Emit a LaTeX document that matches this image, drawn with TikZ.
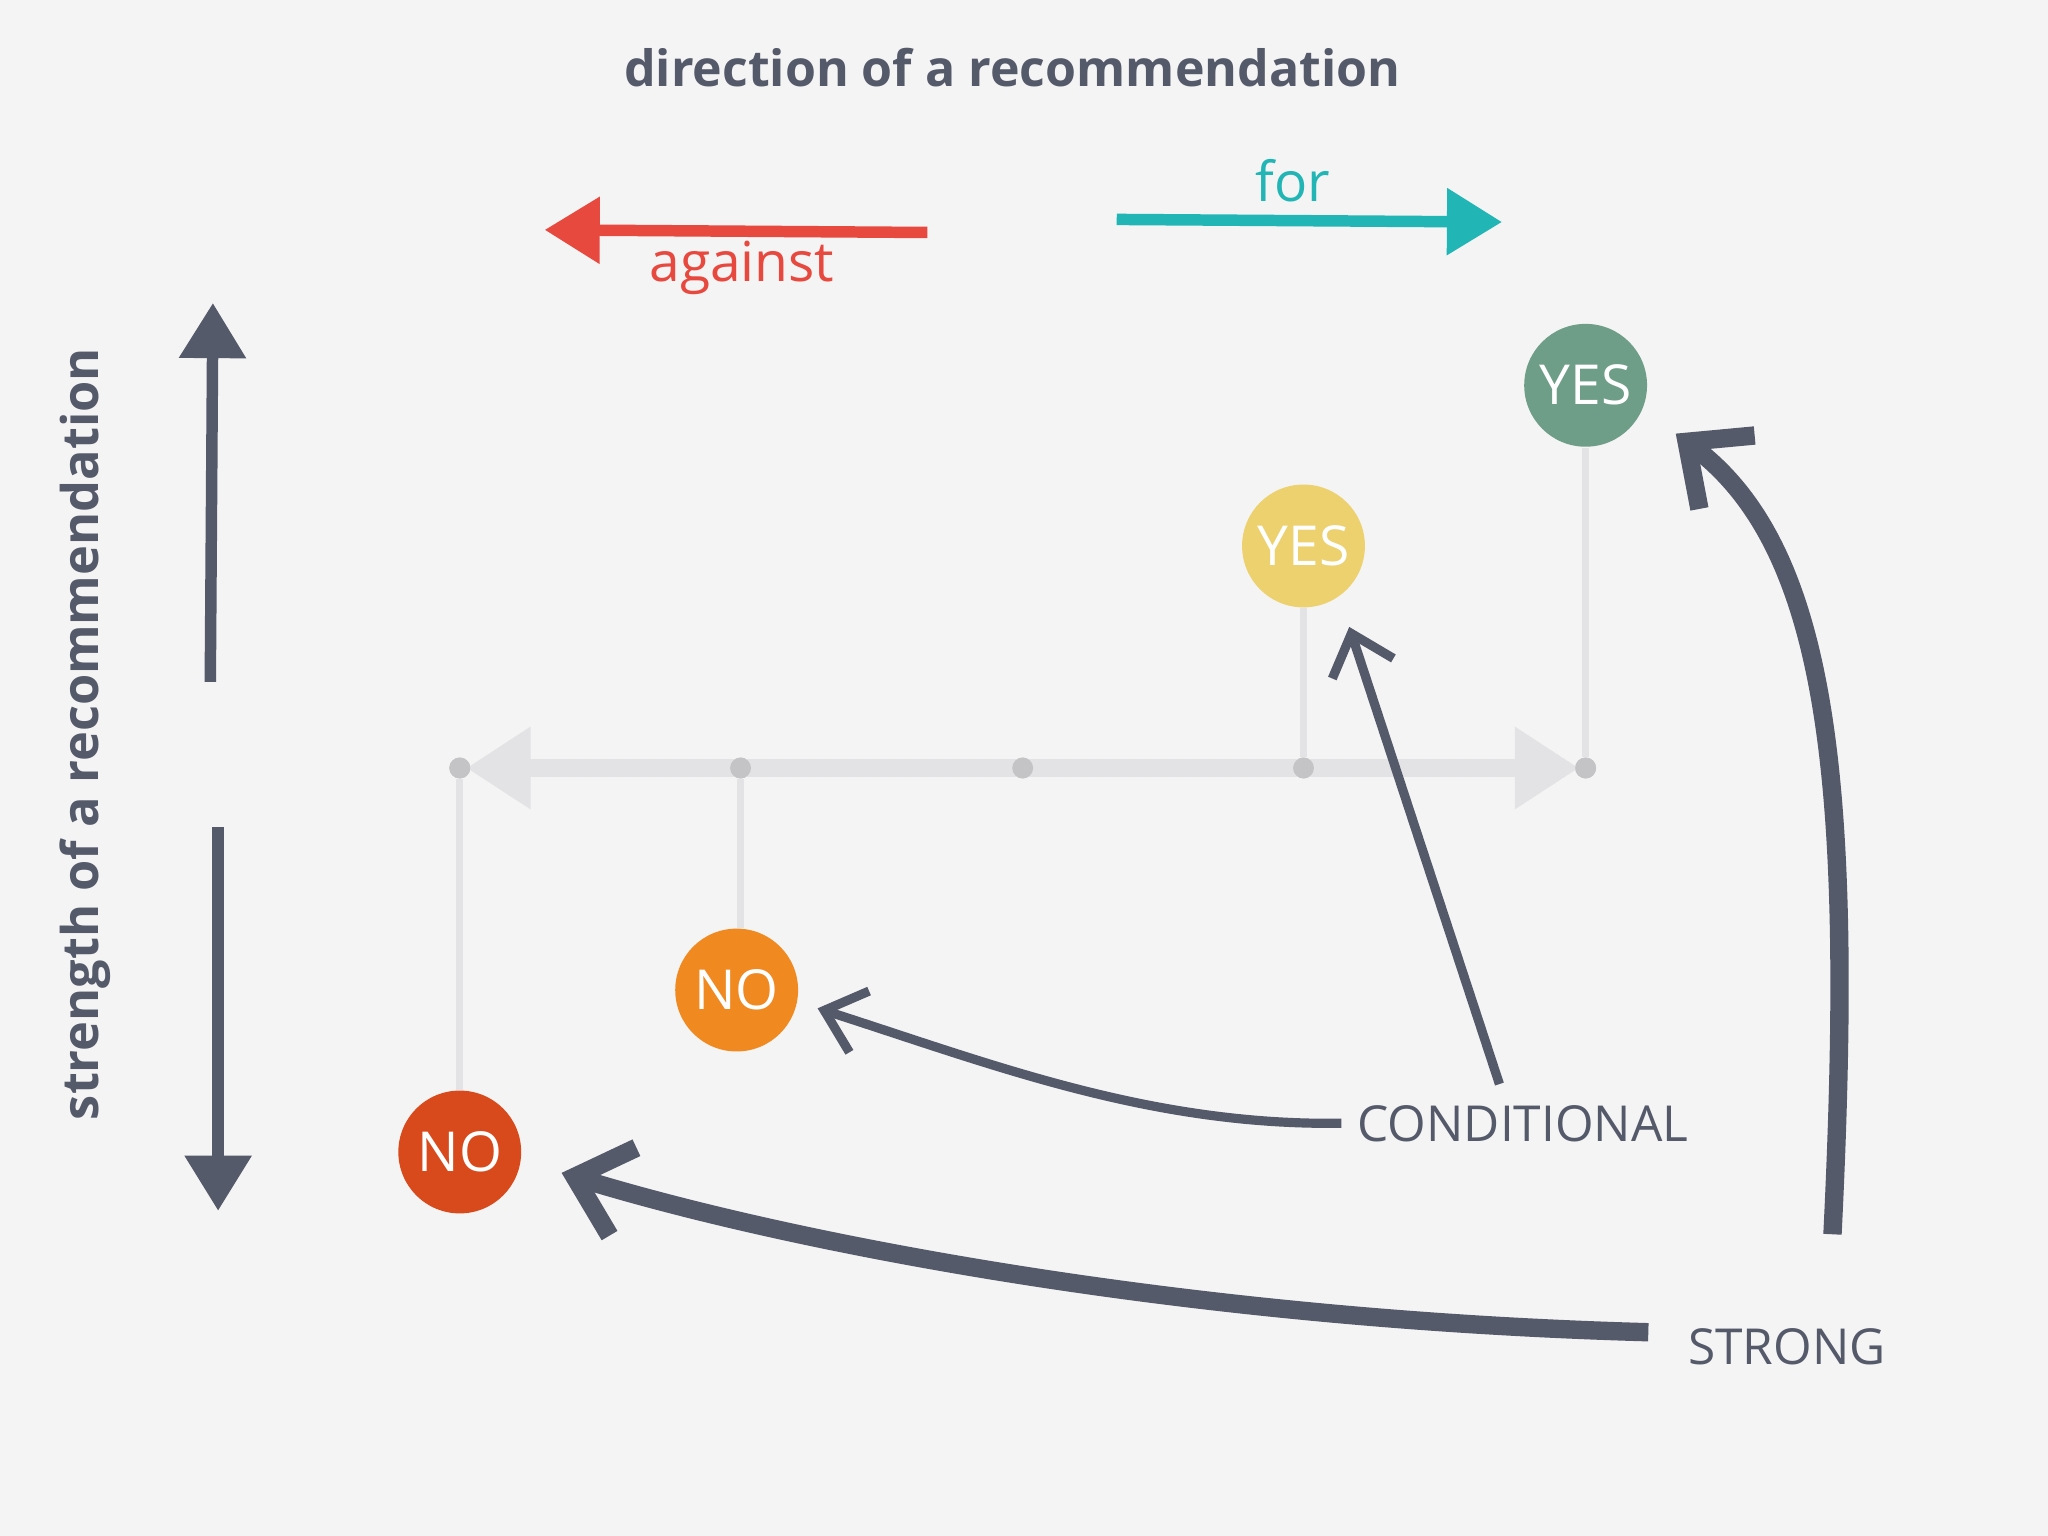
\documentclass[tikz,border=0pt]{standalone}
\usepackage{fontspec}
\setmainfont{Open Sans}
\usetikzlibrary{arrows.meta}
\definecolor{bg}{HTML}{F4F4F4}
\definecolor{ink}{HTML}{555A6A}
\definecolor{teal}{HTML}{22B5B5}
\definecolor{redd}{HTML}{E8493F}
\definecolor{axis}{HTML}{E3E3E5}
\definecolor{dotc}{HTML}{C4C4C6}
\definecolor{c1}{HTML}{D84A1B}
\definecolor{c2}{HTML}{F0891F}
\definecolor{c3}{HTML}{ECD16E}
\definecolor{c4}{HTML}{6E9E87}
\begin{document}
\begin{tikzpicture}[x=0.01cm,y=-0.01cm,
  ball/.style={circle,minimum size=0.94cm,inner sep=0,text=white,font=\fontsize{12}{12}\selectfont},
  dotn/.style={circle,fill=dotc,minimum size=0.16cm,inner sep=0},
  stem/.style={draw=axis,line width=1.6pt},
  lab/.style={text=ink,font=\fontsize{10.8}{11}\selectfont},
  darr/.style={draw=ink,line width=2pt,-{Straight Barb[length=8pt,width=14pt,line width=2pt]}},
  sarr/.style={draw=ink,line width=4pt,-{Straight Barb[length=11pt,width=20pt,line width=4pt]}}]
\fill[bg] (0,0) rectangle (1568,1176);
\node[text=ink,font=\bfseries\fontsize{10.9}{11}\selectfont] (title) at (775,52) {direction of a recommendation};
\node[text=teal,font=\fontsize{12}{12}\selectfont] (for) at (990,138) {for};
\node[text=redd,font=\fontsize{12}{12}\selectfont] (ag) at (568,205) {against};
\coordinate (f1) at (855,168); \coordinate (f2) at (1150,170);
\draw[teal,line width=2.5pt,-{Triangle[length=12pt,width=14pt]}] (f1) -- (f2);
\coordinate (a1) at (710,178); \coordinate (a2) at (417,176);
\draw[redd,line width=2.5pt,-{Triangle[length=12pt,width=14pt]}] (a1) -- (a2);
\node[rotate=90,text=ink,font=\bfseries\fontsize{11}{11}\selectfont] (str) at (65,562) {strength of a recommendation};
\coordinate (u1) at (161,522); \coordinate (u2) at (163,232);
\draw[ink,line width=2.5pt,-{Triangle[length=12pt,width=14pt]}] (u1) -- (u2);
\coordinate (d1) at (167,633); \coordinate (d2) at (167,927);
\draw[ink,line width=2.5pt,-{Triangle[length=12pt,width=14pt]}] (d1) -- (d2);
% axis
\node[dotn] (p1) at (352,588) {};
\node[dotn] (p2) at (567,588) {};
\node[dotn] (p3) at (783,588) {};
\node[dotn] (p4) at (998,588) {};
\node[dotn] (p5) at (1214,588) {};
\draw[axis,line width=4pt,{Triangle[length=14pt,width=17pt]}-{Triangle[length=14pt,width=17pt]}] (357,588) -- (1209,588);
\foreach \p in {p1,p2,p3,p4,p5} \node[dotn] at (\p) {};
\node[ball,fill=c1] (no1) at (352,882) {NO};
\node[ball,fill=c2] (no2) at (564,758) {NO};
\node[ball,fill=c3] (yes1) at (998,418) {YES};
\node[ball,fill=c4] (yes2) at (1214,295) {YES};
\draw[stem] (p1) -- (no1);
\draw[stem] (p2) -- (p2|-no2.north);
\draw[stem] (p4) -- (yes1);
\draw[stem] (p5) -- (yes2);
\node[lab] (cond) at (1166,860) {CONDITIONAL};
\node[lab] (strong) at (1368,1031) {STRONG};
\coordinate (ce) at (626,772);
\draw[darr] (cond.west) .. controls (880,862) and (760,815) .. (ce);
\draw[darr] (1148,830) -- (1033,480);
\draw[sarr] (1262,1020) .. controls (900,1010) and (600,950) .. (430,898);
\draw[sarr] (1403,945) .. controls (1420,600) and (1400,420) .. (1283,332);
\end{tikzpicture}
\end{document}
